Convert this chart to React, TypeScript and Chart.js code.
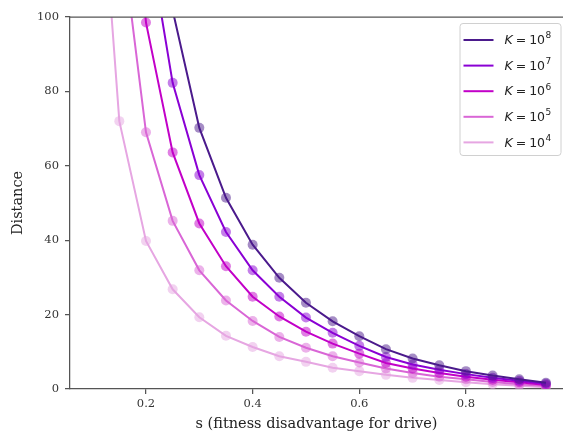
import React, { useEffect, useRef } from "react";
import { Chart, registerables } from "chart.js";

Chart.register(...registerables);

// fitness disadvantage values (s); the 0.1 column lies above the visible range
const sValues = [0.1, 0.15, 0.2, 0.25, 0.3, 0.35, 0.4, 0.45, 0.5, 0.55, 0.6, 0.65, 0.7, 0.75, 0.8, 0.85, 0.9, 0.95];

const distK8 = [657, 288, 157, 101.8, 70.2, 51.4, 38.8, 29.9, 23.2, 18.2, 14.2, 10.7, 8.2, 6.4, 4.8, 3.6, 2.6, 1.7];
const distK7 = [535, 234, 125.5, 82.3, 57.5, 42.2, 31.9, 24.8, 19.2, 15.1, 11.6, 8.6, 6.6, 5.2, 4.0, 3.0, 2.2, 1.4];
const distK6 = [413, 180, 98.5, 63.6, 44.5, 33.0, 24.8, 19.5, 15.4, 12.2, 9.5, 7.0, 5.5, 4.3, 3.3, 2.5, 1.8, 1.1];
const distK5 = [291, 126.6, 69.0, 45.2, 31.9, 23.8, 18.3, 14.0, 11.1, 8.8, 7.1, 5.5, 4.3, 3.3, 2.6, 1.9, 1.3, 0.8];
const distK4 = [169, 72, 39.8, 26.8, 19.3, 14.3, 11.3, 8.8, 7.3, 5.7, 4.8, 3.8, 3.0, 2.4, 1.8, 1.3, 0.9, 0.5];

const exponents = ["8", "7", "6", "5", "4"];
const seriesData = [distK8, distK7, distK6, distK5, distK4];
const seriesColors = ["#4b1a8c", "#8a00d4", "#c200c8", "#d966d6", "#e6a6e2"];
const seriesPointColors = [
  "rgba(75,26,140,0.5)",
  "rgba(138,0,212,0.5)",
  "rgba(194,0,200,0.5)",
  "rgba(217,102,214,0.5)",
  "rgba(230,166,226,0.5)",
];

const xTicks = [0.2, 0.4, 0.6, 0.8];
const yTicks = [0, 20, 40, 60, 80, 100];

const SERIF = "'DejaVu Serif', serif";
const SANS = "'DejaVu Sans', sans-serif";

const extrasPlugin = {
  id: "extras",
  afterDraw(chart: any) {
    const ctx = chart.ctx;
    const ca = chart.chartArea;
    ctx.save();
    // top spine
    ctx.strokeStyle = "#555";
    ctx.lineWidth = 1.25;
    ctx.beginPath();
    ctx.moveTo(ca.left, ca.top);
    ctx.lineTo(ca.right, ca.top);
    ctx.stroke();

    // legend
    const bw = 101;
    const bh = 132;
    const bx = ca.right - bw - 2.5;
    const by = ca.top + 6;
    ctx.fillStyle = "rgba(255,255,255,0.8)";
    ctx.strokeStyle = "#d0d0d0";
    ctx.lineWidth = 1;
    ctx.beginPath();
    (ctx as any).roundRect(bx + 0.5, by + 0.5, bw, bh, 3);
    ctx.fill();
    ctx.stroke();
    for (let i = 0; i < exponents.length; i++) {
      const y = by + 17 + i * 25.6;
      ctx.strokeStyle = seriesColors[i];
      ctx.lineWidth = 2;
      ctx.beginPath();
      ctx.moveTo(bx + 4, y);
      ctx.lineTo(bx + 34, y);
      ctx.stroke();
      ctx.fillStyle = "#222";
      ctx.textBaseline = "middle";
      ctx.textAlign = "left";
      let tx = bx + 45;
      ctx.font = "italic 12.5px " + SANS;
      ctx.fillText("K", tx, y + 1);
      tx += ctx.measureText("K").width + 3;
      ctx.font = "12.5px " + SANS;
      ctx.fillText("=", tx, y + 1);
      tx += ctx.measureText("=").width + 3;
      ctx.fillText("10", tx, y + 1);
      tx += ctx.measureText("10").width + 0.5;
      ctx.font = "9px " + SANS;
      ctx.fillText(exponents[i], tx, y - 4);
    }
    ctx.restore();
  },
};

export default function App() {
  const ref = useRef<HTMLCanvasElement | null>(null);
  useEffect(() => {
    if (!ref.current) return;
    const datasets = seriesData.map((vals, i) => ({
      label: "K = 10^" + exponents[i],
      data: sValues.map((s, j) => ({ x: s, y: vals[j] })),
      borderColor: seriesColors[i],
      backgroundColor: seriesPointColors[i],
      borderWidth: 2,
      pointRadius: 5,
      pointBorderWidth: 0,
      pointBackgroundColor: seriesPointColors[i],
      pointHoverRadius: 5,
      tension: 0,
      fill: false,
    }));
    const chart = new Chart(ref.current, {
      type: "line",
      data: { datasets },
      options: {
        animation: false,
        responsive: false,
        devicePixelRatio: 1,
        layout: { autoPadding: false, padding: { top: 17, left: 0, right: 0, bottom: 0 } },
        plugins: { legend: { display: false }, tooltip: { enabled: false } },
        scales: {
          x: {
            type: "linear",
            min: 0.0575,
            max: 0.982,
            afterFit(scale: any) {
              scale.height = 46;
            },
            afterBuildTicks(scale: any) {
              scale.ticks = xTicks.map((v) => ({ value: v }));
            },
            grid: { display: true, drawOnChartArea: false, drawTicks: true, tickLength: 5, color: "#555", lineWidth: 1.25 },
            border: { display: true, color: "#555", width: 1.25 },
            ticks: {
              color: "#333",
              padding: 3,
              maxRotation: 0,
              font: { family: SERIF, size: 11.5 },
              callback: (v: any) => Number(v).toFixed(1),
            },
            title: {
              display: true,
              text: "s (fitness disadvantage for drive)",
              color: "#222",
              font: { family: SERIF, size: 14.5 },
              padding: { top: 0, bottom: 2 },
            },
          },
          y: {
            type: "linear",
            min: 0,
            max: 100,
            afterFit(scale: any) {
              scale.width = 70;
            },
            afterBuildTicks(scale: any) {
              scale.ticks = yTicks.map((v) => ({ value: v }));
            },
            grid: { display: true, drawOnChartArea: false, drawTicks: true, tickLength: 5, color: "#555", lineWidth: 1.25 },
            border: { display: true, color: "#555", width: 1.25 },
            ticks: {
              color: "#333",
              padding: 6,
              font: { family: SERIF, size: 11.5 },
              callback: (v: any) => String(v),
            },
            title: {
              display: true,
              text: "Distance",
              color: "#222",
              font: { family: SERIF, size: 14.5 },
              padding: { top: 10, bottom: 0 },
            },
          },
        },
      },
      plugins: [extrasPlugin],
    });
    return () => chart.destroy();
  }, []);
  return (
    <div style={{ position: "fixed", left: 0, top: 0, width: 563, height: 435, background: "#fff" }}>
      <canvas ref={ref} width={563} height={435} style={{ width: 563, height: 435, display: "block" }} />
    </div>
  );
}
